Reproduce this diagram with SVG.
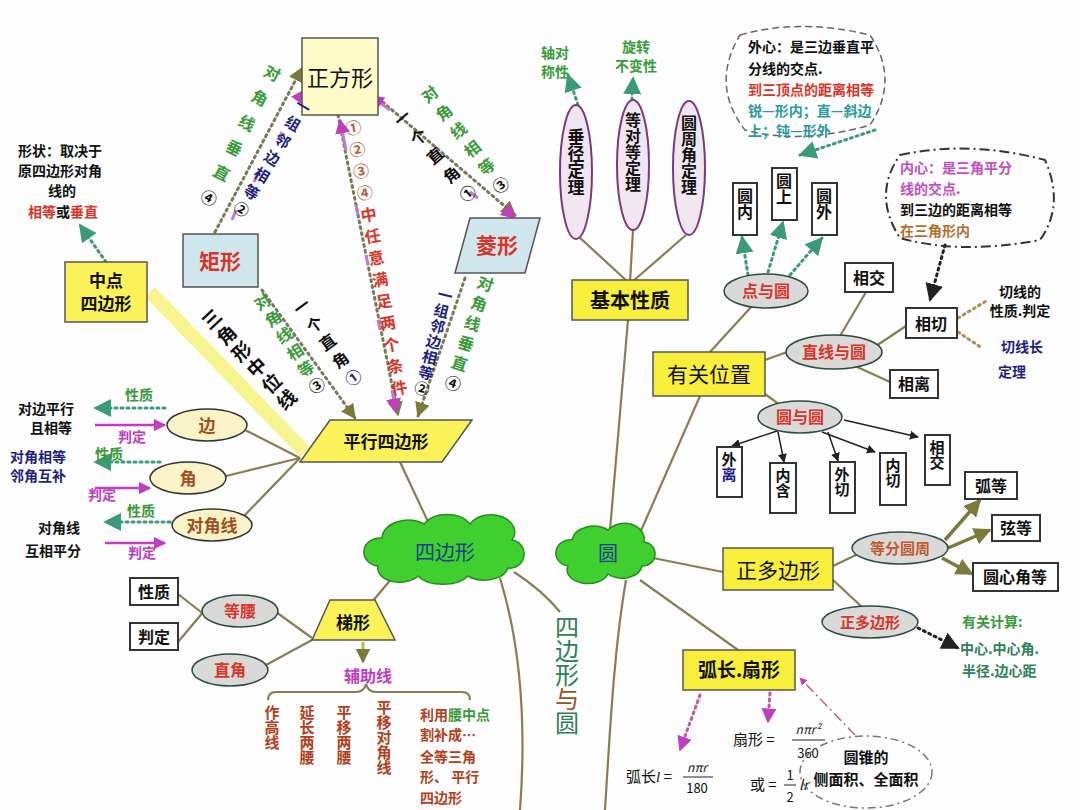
<svg xmlns="http://www.w3.org/2000/svg" width="1080" height="810" viewBox="0 0 1080 810">
<defs>
<style>
text{font-family:"Noto Sans CJK SC","Noto Sans",sans-serif;font-weight:bold;}
.v{writing-mode:vertical-rl;}
.br{fill:none;stroke:#8a7d52;stroke-width:2.2;}
.dot{fill:none;stroke-width:3;stroke-dasharray:2 4;stroke-linecap:round;}
.box{fill:#fff;stroke:#333;stroke-width:2;}
.ybox{fill:#f7ef3c;stroke:#555;stroke-width:1.5;}
.ell{fill:#d9dad8;stroke:#2e4a3e;stroke-width:1.5;}
.cell{fill:#fbf3c8;stroke:#333;stroke-width:1.5;}
.r{fill:#d8352a}.g{fill:#3a9a3a}.n{fill:#1f1f80}.k{fill:#111}.p{fill:#c03cc0}
.nw{font-weight:normal}
</style>
<marker id="ab" viewBox="0 0 10 10" refX="9" refY="5" markerWidth="6" markerHeight="6" orient="auto"><path d="M0,0L10,5L0,10z" fill="#222"/></marker>
<marker id="ag" viewBox="0 0 10 10" refX="9" refY="5" markerWidth="6" markerHeight="6" orient="auto"><path d="M0,0L10,5L0,10z" fill="#3a9a7a"/></marker>
<marker id="ap" viewBox="0 0 10 10" refX="9" refY="5" markerWidth="5" markerHeight="5" orient="auto"><path d="M0,0L10,5L0,10z" fill="#c03cc0"/></marker>
<marker id="ay" viewBox="0 0 10 10" refX="9" refY="5" markerWidth="5" markerHeight="5" orient="auto"><path d="M0,0L10,5L0,10z" fill="#7a7a3a"/></marker>
</defs>
<rect width="1080" height="810" fill="#fdfdfd"/>

<g id="connectors">
<path class="br" d="M500,578 C522,650 526,730 520,810"/>
<path class="br" d="M626,580 C614,650 610,730 605,810"/>
<path class="br" d="M514,572 Q542,590 560,612"/>
<path class="br" d="M430,526 L400,462"/>
<path class="br" d="M392,578 L372,602"/>
<path class="br" d="M610,530 L628,320"/>
<path class="br" d="M640,533 L700,396"/>
<path class="br" d="M648,557 L723,572"/>
<path class="br" d="M640,580 L738,650"/>
<path class="br" d="M628,282 L578,236"/>
<path class="br" d="M630,282 L633,230"/>
<path class="br" d="M632,282 L686,235"/>
<path class="br" d="M710,352 L752,306"/>
<path class="br" d="M765,360 L787,352"/>
<path class="br" d="M840,336 L866,292"/>
<path class="br" d="M876,346 L906,326"/>
<path class="br" d="M855,366 L890,382"/>
<path class="br" d="M765,394 L784,408"/>
<path class="br" d="M833,566 L858,554"/>
<path class="br" d="M833,580 L862,607"/>
<path class="br" d="M300,458 L245,430"/>
<path class="br" d="M300,458 L226,476"/>
<path class="br" d="M300,458 L242,518"/>
<path class="br" d="M312,638 L276,612"/>
<path class="br" d="M312,640 L266,665"/>
<path class="br" d="M178,594 L206,616"/>
<path class="br" d="M178,642 L210,604"/>
<path d="M150,292 L305,452" stroke="#f4f27a" stroke-width="14" fill="none" opacity="0.85"/>
<g stroke="#222" stroke-width="1.5" marker-end="url(#ab)" fill="none">
<path d="M780,430 L732,446"/><path d="M778,432 L784,462"/><path d="M828,432 L838,461"/><path d="M822,432 L875,452"/><path d="M844,420 L918,437"/>
</g>
<g stroke="#7a7a3a" stroke-width="3.5" marker-end="url(#ay)" fill="none">
<path d="M945,540 L980,500"/><path d="M948,548 L990,530"/><path d="M942,558 L972,574"/>
</g>
<g class="dot" stroke="#3a9a7a" marker-end="url(#ag)">
<path d="M748,275 L742,237"/><path d="M768,272 L783,222"/><path d="M790,275 L822,238"/>
<path d="M875,130 L800,155"/>
<path d="M578,105 L568,75"/><path d="M632,100 L633,78"/>
<path d="M106,262 L80,225"/>
<path d="M165,408 L95,408"/><path d="M160,462 L95,462"/><path d="M170,522 L105,522"/>
</g>
<g class="dot" stroke="#222" marker-end="url(#ab)">
<path d="M945,245 L930,300"/><path d="M918,628 L958,648"/>
</g>
<g class="dot" stroke="#b0905a">
<path d="M958,318 L988,300"/><path d="M958,332 L982,348"/>
</g>
<g class="dot" stroke="#c05a9a" marker-end="url(#ap)">
<path d="M700,695 L680,750"/><path d="M770,693 L768,722"/>
</g>
<path d="M855,735 L800,678" stroke="#c05a9a" stroke-width="1.5" stroke-dasharray="10 4 2 4" fill="none" marker-end="url(#ap)"/>
<g stroke="#c03cc0" stroke-width="2.5" marker-end="url(#ap)" fill="none">
<path d="M95,425 L165,425"/><path d="M95,488 L150,488"/><path d="M105,543 L165,543"/>
</g>
<g class="dot" stroke="#7a7a5a" marker-end="url(#ay)">
<path d="M215,232 L302,68"/><path d="M338,115 L398,415"/><path d="M378,98 L515,215"/>
<path d="M262,290 L355,418"/><path d="M465,278 L418,416"/>
</g>
<g stroke="#c07ad0" stroke-width="3" fill="none">
<path d="M232,220 L236,210"/><path d="M254,182 L258,174"/><path d="M278,140 L282,132"/><path d="M298,100 L305,90" marker-end="url(#ap)"/>
<path d="M390,110 L370,96" marker-end="url(#ap)"/><path d="M430,155 L437,160"/><path d="M470,192 L478,198"/><path d="M508,212 L515,218" marker-end="url(#ap)"/>
<path d="M346,150 L340,120" marker-end="url(#ap)"/><path d="M356,205 L358,215"/><path d="M366,255 L368,265"/><path d="M378,320 L380,330"/><path d="M392,390 L396,412" marker-end="url(#ap)"/>
</g>
<path class="br" d="M470,700 Q470,692 462,692 L376,692 Q368,692 366,684 Q364,692 356,692 L276,692 Q268,692 268,700" stroke="#222"/>
<path d="M363,642 L363,662" stroke="#9acd32" stroke-width="3" marker-end="url(#ay)"/>
</g>

<g id="zhengfang"><rect x="302" y="38" width="76" height="77" fill="#fffbc8" stroke="#555" stroke-width="1.5"/><text x="340" y="86" text-anchor="middle" font-size="22" class="k nw">正方形</text></g>
<g id="juxing"><rect x="183" y="234" width="75" height="53" fill="#cfe6ec" stroke="#555" stroke-width="1.5"/><text x="220" y="269" text-anchor="middle" font-size="21" class="r">矩形</text></g>
<g id="lingxing"><polygon points="455,273 470,218 540,218 525,273" fill="#cfe6ec" stroke="#555" stroke-width="1.5"/><text x="497" y="253" text-anchor="middle" font-size="21" class="r">菱形</text></g>
<g id="zhongdian"><rect x="65" y="262" width="82" height="60" fill="#fbf25a" stroke="#555" stroke-width="1.5"/><text x="106" y="287" text-anchor="middle" font-size="17" class="k">中点</text><text x="106" y="310" text-anchor="middle" font-size="17" class="k">四边形</text></g>
<g id="xingzhuang"><text x="18" y="156" font-size="14" class="k">形状：取决于</text><text x="18" y="176" font-size="14" class="k">原四边形对角</text><text x="48" y="196" font-size="14" class="k">线的</text><text x="28" y="217" font-size="14"><tspan class="r">相等</tspan><tspan class="k">或</tspan><tspan class="r">垂直</tspan></text></g>
<g id="pxsbx"><polygon points="300,462 330,420 472,420 442,462" fill="#fbf25a" stroke="#555" stroke-width="1.5"/><text x="386" y="448" text-anchor="middle" font-size="17" class="k">平行四边形</text></g>
<g id="sanjiao"><text class="v k" font-size="19" letter-spacing="3" transform="translate(205,312) rotate(-43)">三角形中位线</text></g>

<g id="lbl1"><text class="v g" font-size="16" letter-spacing="12" transform="translate(276,66) rotate(27)">对角线垂直<tspan class="k">④</tspan></text><text class="v n" font-size="15" letter-spacing="5" transform="translate(307,100) rotate(31)">一组邻边相等<tspan class="k">②</tspan></text></g>
<g id="lbl2"><text class="v g" font-size="16" letter-spacing="7" transform="translate(425,88) rotate(-38)">对角线相等<tspan class="k">③</tspan></text><text class="v k" font-size="16" letter-spacing="9" transform="translate(397,112) rotate(-41)">一个直角①</text></g>
<g id="lbl3"><text class="v r" font-size="16" letter-spacing="6" transform="translate(352,120) rotate(-10)"><tspan style="fill:#b0603a">①②③④</tspan>中任意满足两个条件</text></g>
<g id="lbl4"><text class="v g" font-size="16" letter-spacing="4" transform="translate(258,295) rotate(-33)">对角线相等<tspan class="k">③</tspan></text><text class="v k" font-size="16" letter-spacing="6" transform="translate(297,300) rotate(-36)">一个直角<tspan class="n">①</tspan></text></g>
<g id="lbl5"><text class="v g" font-size="16" letter-spacing="5" transform="translate(488,276) rotate(18)">对角线垂直<tspan class="k">④</tspan></text><text class="v n" font-size="15" letter-spacing="1" transform="translate(447,288) rotate(14)">一组邻边相等<tspan class="k">②</tspan></text></g>

<g id="bian"><ellipse cx="207" cy="425" rx="40" ry="16" class="cell"/><text x="207" y="432" text-anchor="middle" font-size="17" fill="#a05020">边</text></g>
<g id="jiao"><ellipse cx="188" cy="478" rx="38" ry="16" class="cell"/><text x="188" y="485" text-anchor="middle" font-size="17" fill="#a05020">角</text></g>
<g id="djx"><ellipse cx="212" cy="525" rx="40" ry="16" class="cell"/><text x="212" y="532" text-anchor="middle" font-size="17" fill="#a05020">对角线</text></g>
<g id="leftlabels">
<text x="18" y="414" font-size="14" class="k">对边平行</text><text x="30" y="433" font-size="14" class="k">且相等</text>
<text x="125" y="400" font-size="14" class="g">性质</text><text x="118" y="442" font-size="14" class="p">判定</text>
<text x="10" y="462" font-size="14" class="n">对角相等</text><text x="10" y="481" font-size="14" class="n">邻角互补</text>
<text x="95" y="459" font-size="14" class="g">性质</text><text x="88" y="500" font-size="14" class="p">判定</text>
<text x="38" y="533" font-size="14" class="k">对角线</text><text x="25" y="556" font-size="14" class="k">互相平分</text>
<text x="127" y="516" font-size="14" class="g">性质</text><text x="128" y="558" font-size="14" class="p">判定</text>
</g>

<g id="tixing"><polygon points="312,640 330,600 375,600 395,640" fill="#fbf25a" stroke="#555" stroke-width="1.5"/><text x="353" y="629" text-anchor="middle" font-size="17" class="k">梯形</text></g>
<g id="dengyao"><ellipse cx="240" cy="611" rx="38" ry="16" class="ell"/><text x="240" y="617" text-anchor="middle" font-size="16" class="r">等腰</text></g>
<g id="zhijiao"><ellipse cx="230" cy="670" rx="38" ry="16" class="ell"/><text x="230" y="676" text-anchor="middle" font-size="16" class="r">直角</text></g>
<g id="xz"><rect x="130" y="578" width="48" height="27" class="box"/><text x="154" y="598" text-anchor="middle" font-size="16" class="k">性质</text></g>
<g id="pd"><rect x="130" y="623" width="48" height="27" class="box"/><text x="154" y="643" text-anchor="middle" font-size="16" class="k">判定</text></g>
<g id="fuzhu"><text x="368" y="682" text-anchor="middle" font-size="16" class="p">辅助线</text>
<text class="v" font-size="15" x="272" y="705" fill="#b04020">作高线</text>
<text class="v" font-size="15" x="307" y="705" fill="#b04020">延长两腰</text>
<text class="v" font-size="15" x="344" y="705" fill="#b04020">平移两腰</text>
<text class="v" font-size="15" x="384" y="700" fill="#b04020">平移对角线</text>
<text x="420" y="720" font-size="14" fill="#b04020">利用<tspan class="g">腰中点</tspan></text>
<text x="420" y="740" font-size="14" fill="#b04020">割补成…</text>
<text x="420" y="762" font-size="14" fill="#b04020">全等三角</text>
<text x="420" y="782" font-size="14" fill="#b04020">形、 平行</text>
<text x="420" y="803" font-size="14" fill="#b04020">四边形</text></g>
<g id="sbxyy"><text class="v nw" font-size="24" x="567" y="615" fill="#2f7f5a">四边形<tspan fill="#8a5a2a">与</tspan><tspan fill="#2f7f5a">圆</tspan></text></g>

<g id="cloud1"><path d="M378,566 a16,14 0 0 1 4,-28 a26,18 0 0 1 42,-14 a26,18 0 0 1 46,0 a22,16 0 0 1 42,16 a14,14 0 0 1 -4,28 a24,15 0 0 1 -40,8 a28,15 0 0 1 -50,0 a22,14 0 0 1 -40,-10z" fill="#3fcf2f" stroke="#2a8a20" stroke-width="1.5"/><text x="445" y="560" text-anchor="middle" font-size="20" fill="#1f3f8a" class="nw">四边形</text></g>
<g id="cloud2"><path d="M568,566 a14,13 0 0 1 4,-26 a22,16 0 0 1 36,-10 a20,16 0 0 1 36,12 a12,12 0 0 1 -2,24 a20,14 0 0 1 -34,8 a20,13 0 0 1 -40,-8z" fill="#3fcf2f" stroke="#2a8a20" stroke-width="1.5"/><text x="608" y="561" text-anchor="middle" font-size="20" fill="#1f3f8a" class="nw">圆</text></g>

<g id="jbxz"><rect x="572" y="280" width="116" height="40" class="ybox"/><text x="630" y="308" text-anchor="middle" font-size="20" class="k">基本性质</text></g>
<g id="e1"><ellipse cx="576" cy="172" rx="16" ry="67" fill="#f0e6f0" stroke="#7a3a7a" stroke-width="2"/><text class="v k" font-size="17" x="576" y="128">垂径定理</text></g>
<g id="e2"><ellipse cx="633" cy="165" rx="16" ry="65" fill="#f0e6f0" stroke="#7a3a7a" stroke-width="2"/><text class="v k" font-size="16" x="633" y="112">等对等定理</text></g>
<g id="e3"><ellipse cx="689" cy="168" rx="16" ry="67" fill="#f0e6f0" stroke="#7a3a7a" stroke-width="2"/><text class="v k" font-size="16" x="689" y="115">圆周角定理</text></g>
<g id="zdc"><text x="555" y="58" text-anchor="middle" font-size="14" class="g">轴对</text><text x="555" y="77" text-anchor="middle" font-size="14" class="g">称性</text></g>
<g id="xzbb"><text x="636" y="52" text-anchor="middle" font-size="14" class="g">旋转</text><text x="636" y="71" text-anchor="middle" font-size="14" class="g">不变性</text></g>

<g id="waixin"><path d="M740,35 Q800,18 870,35 Q900,80 870,125 Q800,145 745,130 Q710,85 740,35z" fill="none" stroke="#666" stroke-width="1.5" stroke-dasharray="7 4"/>
<text x="748" y="52" font-size="14" class="k">外心：是三边垂直平</text><text x="748" y="74" font-size="14" class="k">分线的交点.</text>
<text x="748" y="95" font-size="14" class="r">到三顶点的距离相等</text><text x="748" y="116" font-size="14" fill="#2a9a9a">锐—形内；直—斜边</text><text x="748" y="136" font-size="14" fill="#2a9a9a">上；钝—形外</text></g>
<g id="neixin"><path d="M900,155 Q970,140 1045,160 Q1065,205 1040,240 Q960,255 900,238 Q872,195 900,155z" fill="none" stroke="#333" stroke-width="2" stroke-dasharray="10 4 2 4"/>
<text x="900" y="173" font-size="14" fill="#c050c0">内心：是三角平分</text><text x="900" y="194" font-size="14" fill="#c050c0">线的交点.</text><text x="900" y="215" font-size="14" class="k">到三边的距离相等</text><text x="900" y="236" font-size="14" fill="#b07030">在三角形内</text></g>

<g id="yn"><rect x="733" y="183" width="24" height="52" class="box"/><text class="v k" x="745" y="188" font-size="16">圆内</text></g>
<g id="ys"><rect x="772" y="168" width="25" height="52" class="box"/><text class="v k" x="784" y="173" font-size="16">圆上</text></g>
<g id="yw"><rect x="812" y="183" width="25" height="52" class="box"/><text class="v k" x="824" y="188" font-size="16">圆外</text></g>
<g id="dyy"><ellipse cx="766" cy="291" rx="42" ry="17" class="ell"/><text x="766" y="297" text-anchor="middle" font-size="16" class="r">点与圆</text></g>
<g id="ygwz"><rect x="653" y="352" width="112" height="44" class="ybox"/><text x="709" y="382" text-anchor="middle" font-size="21" class="k nw">有关位置</text></g>
<g id="zxyy"><ellipse cx="834" cy="352" rx="48" ry="17" class="ell"/><text x="834" y="358" text-anchor="middle" font-size="16" class="r">直线与圆</text></g>
<g id="xj1"><rect x="845" y="263" width="48" height="29" class="box"/><text x="869" y="284" text-anchor="middle" font-size="16" class="k">相交</text></g>
<g id="xq"><rect x="906" y="308" width="51" height="30" class="box"/><text x="931" y="330" text-anchor="middle" font-size="16" class="k">相切</text></g>
<g id="xl"><rect x="890" y="370" width="48" height="28" class="box"/><text x="914" y="390" text-anchor="middle" font-size="16" class="k">相离</text></g>
<g id="qx"><text x="1020" y="297" text-anchor="middle" font-size="14" class="k">切线的</text><text x="1020" y="316" text-anchor="middle" font-size="14" class="k">性质.判定</text>
<text x="1022" y="352" text-anchor="middle" font-size="14" class="n">切线长</text><text x="1012" y="377" text-anchor="middle" font-size="14" class="n">定理</text></g>
<g id="yyy"><ellipse cx="800" cy="417" rx="42" ry="16" class="ell"/><text x="800" y="423" text-anchor="middle" font-size="16" class="r">圆与圆</text></g>
<g id="wl"><rect x="717" y="447" width="25" height="50" class="box"/><text class="v" x="729" y="452" font-size="15"><tspan class="k">外</tspan><tspan class="n">离</tspan></text></g>
<g id="nh"><rect x="770" y="463" width="26" height="50" class="box"/><text class="v k" x="783" y="468" font-size="15">内含</text></g>
<g id="wq"><rect x="830" y="462" width="25" height="51" class="box"/><text class="v k" x="842" y="467" font-size="15">外切</text></g>
<g id="nq"><rect x="880" y="453" width="26" height="52" class="box"/><text class="v k" x="893" y="458" font-size="15">内切</text></g>
<g id="xj2"><rect x="925" y="435" width="25" height="50" class="box"/><text class="v k" x="937" y="440" font-size="15">相交</text></g>

<g id="zdbx"><rect x="723" y="548" width="110" height="42" class="ybox"/><text x="778" y="578" text-anchor="middle" font-size="21" class="k nw">正多边形</text></g>
<g id="dfyz"><ellipse cx="900" cy="548" rx="48" ry="16" class="ell"/><text x="900" y="554" text-anchor="middle" font-size="15" fill="#c05a30">等分圆周</text></g>
<g id="hd"><rect x="965" y="472" width="52" height="27" class="box"/><text x="991" y="492" text-anchor="middle" font-size="16" class="k">弧等</text></g>
<g id="xd"><rect x="992" y="515" width="48" height="26" class="box"/><text x="1016" y="534" text-anchor="middle" font-size="16" class="k">弦等</text></g>
<g id="yxj"><rect x="973" y="563" width="85" height="28" class="box"/><text x="1015" y="583" text-anchor="middle" font-size="16" class="k">圆心角等</text></g>
<g id="zdbx2"><ellipse cx="870" cy="622" rx="48" ry="16" class="ell"/><text x="870" y="628" text-anchor="middle" font-size="15" class="r">正多边形</text></g>
<g id="ygjs"><text x="962" y="627" font-size="14" class="g">有关计算:</text><text x="960" y="654" font-size="14" fill="#2f7f5a">中心.中心角.</text><text x="962" y="676" font-size="14" fill="#2f7f5a">半径.边心距</text></g>
<g id="hcsx"><rect x="683" y="650" width="112" height="40" class="ybox"/><text x="739" y="677" text-anchor="middle" font-size="19" class="k">弧长.扇形</text></g>
<g id="formulas">
<text x="626" y="782" font-size="15" class="k nw">弧长<tspan font-style="italic" font-family="Liberation Serif">l</tspan> =</text>
<text x="697" y="772" text-anchor="middle" font-size="12" font-style="italic" class="k nw" font-family="Liberation Serif">nπr</text><line x1="683" y1="777" x2="713" y2="777" stroke="#222"/><text x="697" y="793" text-anchor="middle" font-size="13" class="k nw">180</text>
<text x="733" y="745" font-size="15" class="k nw">扇形 =</text>
<text x="808" y="734" text-anchor="middle" font-size="12" font-style="italic" class="k nw" font-family="Liberation Serif">nπr²</text><line x1="792" y1="740" x2="825" y2="740" stroke="#222"/><text x="808" y="758" text-anchor="middle" font-size="13" class="k nw">360</text>
<text x="750" y="790" font-size="15" class="k nw">或 =</text>
<text x="790" y="780" text-anchor="middle" font-size="13" class="k nw">1</text><line x1="784" y1="785" x2="796" y2="785" stroke="#222"/><text x="790" y="802" text-anchor="middle" font-size="13" class="k nw">2</text><text x="799" y="790" font-size="14" font-style="italic" class="k nw" font-family="Liberation Serif">lr</text>
</g>
<g id="yz"><ellipse cx="866" cy="772" rx="66" ry="36" fill="none" stroke="#777" stroke-width="1.5" stroke-dasharray="8 4 2 4"/><text x="866" y="763" text-anchor="middle" font-size="15" class="k">圆锥的</text><text x="866" y="785" text-anchor="middle" font-size="15" class="k">侧面积、全面积</text></g>
</svg>
